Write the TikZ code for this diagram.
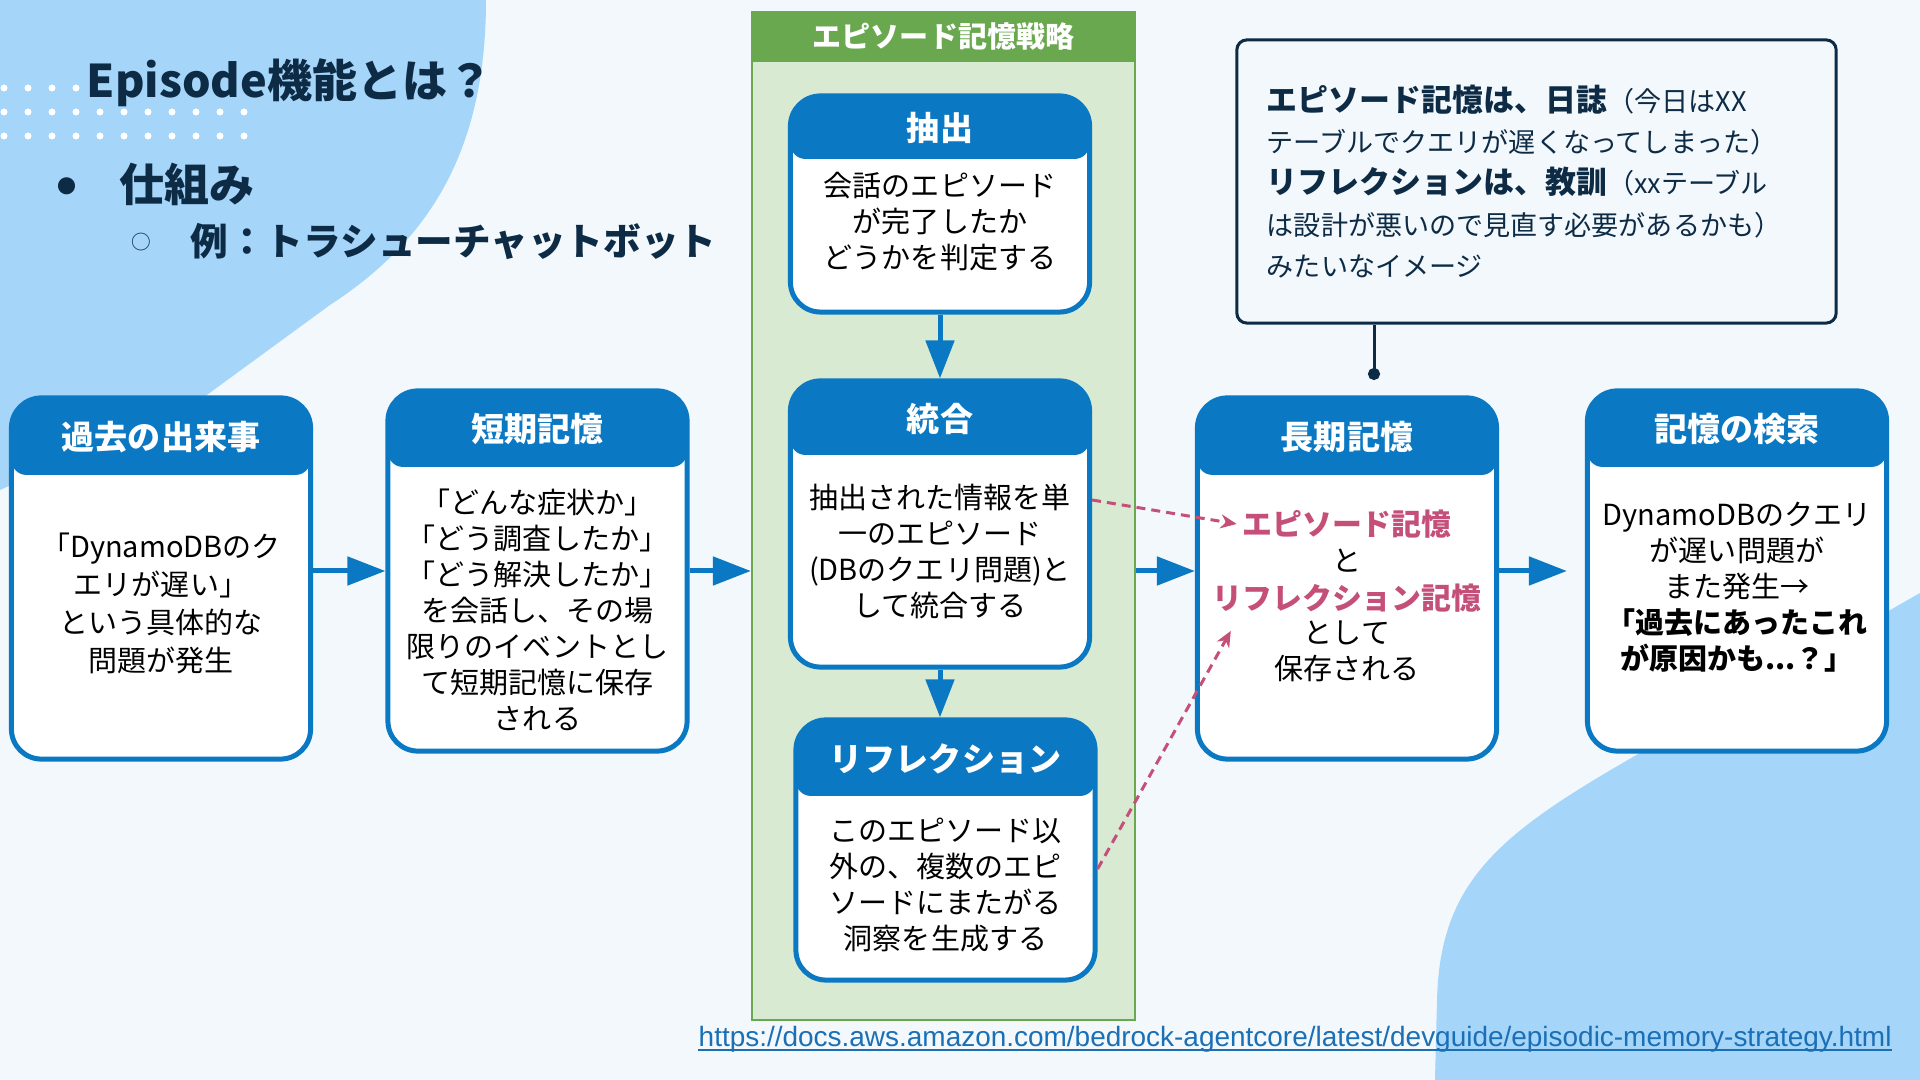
\documentclass[tikz,border=0pt]{standalone}
\usepackage{fontspec}
\setmainfont{Noto Sans CJK JP}
\newfontfamily\linkfont{Liberation Sans}
\usetikzlibrary{arrows.meta}
\definecolor{memBg}{HTML}{F3F8FC}
\definecolor{memBlob}{HTML}{A6D5FA}
\definecolor{memBlue}{HTML}{0A78C2}
\definecolor{memGreen}{HTML}{6AA84F}
\definecolor{memGreenL}{HTML}{D9EAD3}
\definecolor{memPink}{HTML}{C4507A}
\definecolor{memNavy}{HTML}{0D2B45}
\definecolor{memLink}{HTML}{1B6FB5}
\begin{document}
\begin{tikzpicture}[x=0.01cm, y=-0.01cm,
    memCardS/.style={rectangle,rounded corners=0.3cm,draw=memBlue,line width=0.05cm,fill=white,minimum width=2.99cm,inner sep=0pt,
        path picture={\fill[memBlue,rounded corners=0.15cm] ([yshift=0.4cm]path picture bounding box.north west) rectangle ([yshift=-#1]path picture bounding box.north east);}},
    memTitleS/.style={text=white,font=\bfseries\fontsize{9.4}{11}\selectfont,inner sep=0pt},
    memTextS/.style={align=center,inner sep=0.05cm,font=\fontsize{8.25}{10.24}\selectfont},
    memArrowS/.style={-{Triangle[length=0.38cm,width=0.28cm]},line width=0.05cm,draw=memBlue},
    memDashS/.style={-{Stealth[length=0.16cm,width=0.14cm]},line width=0.03cm,draw=memPink,dash pattern=on 0.09cm off 0.06cm},
]
\fill[memBg] (0,0) rectangle (1920,1080);
\useasboundingbox (0,0) rectangle (1920,1080);
\fill[memBlob] (0,0) -- (486,0) .. controls (486,150) and (430,240) .. (330,305) -- (200,400) -- (0,490) -- cycle;
\fill[memBlob] (1920,593) -- (1640,753) .. controls (1500,833) and (1440,880) .. (1437,1000) -- (1435,1080) -- (1920,1080) -- cycle;
\foreach \dx in {0,...,3} \fill[white] (4+24*\dx,88) circle (0.035cm);
\foreach \dy in {112,136} \foreach \dx in {0,...,10} \fill[white] (4+24*\dx,\dy) circle (0.035cm);

\node[anchor=west,inner sep=0pt,text=memNavy,font=\bfseries\fontsize{12.8}{15}\selectfont] (pageTitle) at (86,83) {Episode機能とは？};
\node[inner sep=0pt,text=memNavy,font=\fontsize{5.4}{6}\selectfont] (bulletA) at (67,186) {●};
\node[anchor=west,inner sep=0pt,text=memNavy,font=\bfseries\fontsize{12.8}{15}\selectfont] (bulletAText) at (119,184) {仕組み};
\node[inner sep=0pt,text=memNavy,font=\fontsize{5.6}{6}\selectfont] (bulletB) at (141,242) {○};
\node[anchor=west,inner sep=0pt,text=memNavy,font=\bfseries\fontsize{10.7}{12}\selectfont] (bulletBText) at (190,242) {例：トラシューチャットボット};

\node[rectangle,draw=memGreen,line width=0.02cm,fill=memGreenL,minimum width=3.83cm,minimum height=10.08cm,inner sep=0pt] (stratBox) at (943.5,516) {};
\node[rectangle,fill=memGreen,minimum width=3.83cm,minimum height=0.51cm,anchor=north,inner sep=0pt,text=white,font=\bfseries\fontsize{8.25}{10}\selectfont] (stratHead) at (stratBox.north) {エピソード記憶戦略};

\node[memCardS=0.77cm,minimum height=3.61cm] (memPast) at (161,578.5) {};
\node[memTitleS] (memPastT) at (161,437) {過去の出来事};
\node[memTextS,font=\fontsize{8.25}{10.8}\selectfont] (memPastB) at (161,603.5) {「DynamoDBのク\\エリが遅い」\\という具体的な\\問題が発生};

\node[memCardS=0.76cm,minimum height=3.60cm] (memShort) at (537.5,571) {};
\node[memTitleS] (memShortT) at (537.5,429) {短期記憶};
\node[memTextS] (memShortB) at (537.5,610) {「どんな症状か」\\「どう調査したか」\\「どう解決したか」\\を会話し、その場\\限りのイベントとし\\て短期記憶に保存\\される};

\node[memCardS=0.63cm,minimum height=2.16cm] (memExtract) at (940,204) {};
\node[memTitleS] (memExtractT) at (940,128) {抽出};
\node[memTextS] (memExtractB) at (940,222) {会話のエピソード\\が完了したか\\どうかを判定する};

\node[memCardS=0.74cm,minimum height=2.86cm] (memMerge) at (940,524) {};
\node[memTitleS] (memMergeT) at (940,419) {統合};
\node[memTextS] (memMergeB) at (940,552) {抽出された情報を単\\一のエピソード\\(DBのクエリ問題)と\\して統合する};

\node[memCardS=0.76cm,minimum height=2.60cm] (memReflect) at (945.5,850) {};
\node[memTitleS] (memReflectT) at (945.5,759) {リフレクション};
\node[memTextS] (memReflectB) at (945.5,885) {このエピソード以\\外の、複数のエピ\\ソードにまたがる\\洞察を生成する};

\node[memCardS=0.77cm,minimum height=3.61cm] (memLong) at (1347,578.5) {};
\node[memTitleS] (memLongT) at (1347,437) {長期記憶};
\node[memTextS,text=memPink,font=\bfseries\fontsize{8.5}{10.24}\selectfont] (memLongEpi) at (1347,524) {エピソード記憶};
\node[memTextS] (memLongAnd) at (1347,561) {と};
\node[memTextS,text=memPink,font=\bfseries\fontsize{8.5}{10.24}\selectfont] (memLongRef) at (1347,598) {リフレクション記憶};
\node[memTextS] (memLongRest) at (1347,651.5) {として\\保存される};

\node[memCardS=0.76cm,minimum height=3.60cm] (memSearch) at (1737,571) {};
\node[memTitleS] (memSearchT) at (1737,429) {記憶の検索};
\node[memTextS] (memSearchB) at (1737,587.5) {DynamoDBのクエリ\\が遅い問題が\\また発生→\\\textbf{「過去にあったこれ}\\\textbf{が原因かも...？」}};

\node[rectangle,draw=memNavy,line width=0.03cm,rounded corners=0.1cm,fill=memBg,minimum width=5.99cm,minimum height=2.83cm,text width=5.39cm,inner xsep=0.3cm,align=left,text=memNavy,font=\fontsize{7.7}{11.7}\selectfont] (noteBox) at (1536.5,181.5) {{\bfseries\fontsize{8.8}{11.7}\selectfont エピソード記憶は、日誌}（今日はXX\\テーブルでクエリが遅くなってしまった）\\{\bfseries\fontsize{8.8}{11.7}\selectfont リフレクションは、教訓}（xxテーブル\\は設計が悪いので見直す必要があるかも）\\みたいなイメージ};
\coordinate (noteDot) at (1374,380);
\draw[memNavy,line width=0.03cm,-{Circle[length=0.12cm]}] (noteBox.south -| noteDot) -- (noteDot);

\draw[memArrowS] (memPast.east |- memShort.west) -- (memShort.west);
\draw[memArrowS] (memShort.east) -- (memShort.east -| stratBox.west);
\draw[memArrowS] (stratBox.east |- memShort.east) -- (memShort.east -| memLong.west);
\draw[memArrowS] (memLong.east |- memSearch.west) -- ([xshift=-0.18cm]memSearch.west);
\draw[memArrowS] (memExtract.south) -- (memMerge.north);
\draw[memArrowS] (memMerge.south) -- (memMerge.south |- memReflect.north);
\draw[memDashS] ([yshift=0.24cm]memMerge.east) -- (memLongEpi.west);
\draw[memDashS] ([yshift=-0.19cm]memReflect.east) -- ([xshift=0.24cm,yshift=-0.13cm]memLongRef.south west);

\node[anchor=base west,inner sep=0pt,text=memLink,font=\linkfont\fontsize{7.95}{9.6}\selectfont] (srcLink) at (698,1047) {https://docs.aws.amazon.com/bedrock-agentcore/latest/devguide/episodic-memory-strategy.html};
\draw[memLink,line width=0.02cm] ([yshift=-0.03cm]srcLink.base west) -- ([yshift=-0.03cm]srcLink.base east);
\end{tikzpicture}
\end{document}
